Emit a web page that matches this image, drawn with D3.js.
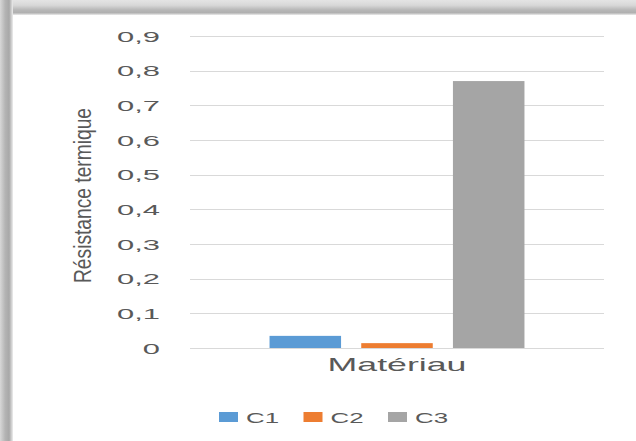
<!DOCTYPE html>
<html>
<head>
<meta charset="utf-8">
<script src="https://cdn.jsdelivr.net/npm/d3@7"></script>
<style>
  html, body { margin: 0; padding: 0; background: #ffffff; }
  svg { display: block; }
  text { font-family: "Liberation Sans", Arial, sans-serif; }
</style>
</head>
<body>
<div id="chart"></div>
<script>
// ---- data ----
const categories = ["Matériau"];
const seriesNames = ["C1", "C2", "C3"];
const seriesValues = [0.035, 0.014, 0.77];
const seriesColors = ["#5B9BD5", "#ED7D31", "#A5A5A5"];
const yTickValues = [0, 0.1, 0.2, 0.3, 0.4, 0.5, 0.6, 0.7, 0.8, 0.9];
const yTickLabels = ["0", "0,1", "0,2", "0,3", "0,4", "0,5", "0,6", "0,7", "0,8", "0,9"];
const yTitle = "Résistance termique";

// ---- layout ----
const W = 636, H = 441;
const plot = { left: 190, right: 604, top: 36, bottom: 348 };
const textColor = "#595959";

const svg = d3.select("#chart").append("svg").attr("width", W).attr("height", H);
const defs = svg.append("defs");

// frame shadow
const gTop = defs.append("linearGradient").attr("id", "gTop").attr("x1", 0).attr("y1", 0).attr("x2", 0).attr("y2", 1);
[[0, "#e4e4e4"], [0.35, "#d8d8d8"], [0.65, "#b8b8b8"], [0.85, "#b0b0b0"], [1, "#ececec"]]
  .forEach(([o, c]) => gTop.append("stop").attr("offset", o).attr("stop-color", c));
const gLeft = defs.append("linearGradient").attr("id", "gLeft").attr("x1", 0).attr("y1", 0).attr("x2", 1).attr("y2", 0);
[[0, "#d8d8d8"], [0.4, "#b4b4b4"], [0.7, "#a8a8a8"], [0.85, "#c8c8c8"], [1, "#eeeeee"]]
  .forEach(([o, c]) => gLeft.append("stop").attr("offset", o).attr("stop-color", c));

svg.append("rect").attr("x", 0).attr("y", 0).attr("width", W).attr("height", H).attr("fill", "#ffffff");
svg.append("rect").attr("x", 0).attr("y", 0).attr("width", W).attr("height", 15).attr("fill", "url(#gTop)");
svg.append("rect").attr("x", 0).attr("y", 0).attr("width", 13).attr("height", H).attr("fill", "url(#gLeft)");

// helper for stretched text
function stretchedText(parent, x, y, str, size, anchor, k, rot) {
  return parent.append("text")
    .attr("transform", `translate(${x},${y}) scale(${k},1)` + (rot ? ` rotate(${rot})` : ""))
    .attr("text-anchor", anchor)
    .attr("font-size", size)
    .attr("fill", textColor)
    .text(str);
}

// ---- scales ----
const y = d3.scaleLinear().domain([0, 0.9]).range([plot.bottom, plot.top]);
const x0 = d3.scaleBand().domain(categories).range([plot.left, plot.right]).paddingInner(0).paddingOuter(0.312);
const x1 = d3.scaleBand().domain(seriesNames).range([0, x0.bandwidth()]).paddingInner(0.22).paddingOuter(0);

// gridlines
svg.append("g").selectAll("line").data(yTickValues).join("line")
  .attr("x1", plot.left).attr("x2", plot.right)
  .attr("y1", d => Math.round(y(d)) + 0.5).attr("y2", d => Math.round(y(d)) + 0.5)
  .attr("stroke", "#d9d9d9").attr("stroke-width", 1);

// y axis (labels only)
const yAxis = d3.axisLeft(y).tickValues(yTickValues)
  .tickFormat((d, i) => yTickLabels[i]).tickSize(0).tickPadding(30);
const ya = svg.append("g").attr("transform", `translate(${plot.left},0)`).call(yAxis);
ya.select(".domain").remove();
ya.selectAll(".tick text")
  .attr("font-family", "Liberation Sans, Arial, sans-serif")
  .attr("font-size", 15).attr("fill", textColor)
  .attr("dy", "0.35em")
  .attr("transform", function () { const x = +d3.select(this).attr("x"); d3.select(this).attr("x", 0); return `translate(${x},0) scale(2.06,1)`; });

// bars
const barG = svg.append("g");
categories.forEach(cat => {
  barG.selectAll(null).data(seriesNames.map((s, i) => ({ s, v: seriesValues[i], c: seriesColors[i] })))
    .join("rect")
    .attr("x", d => x0(cat) + x1(d.s))
    .attr("width", x1.bandwidth())
    .attr("y", d => y(d.v))
    .attr("height", d => y(0) - y(d.v))
    .attr("fill", d => d.c);
});

// category label
categories.forEach(cat => {
  stretchedText(svg, x0(cat) + x0.bandwidth() / 2, 371, cat, 18.6, "middle", 1.92);
});

// y title
stretchedText(svg, 91, 195.5, yTitle, 19, "middle", 1.3, -90).attr("textLength", 175).attr("lengthAdjust", "spacingAndGlyphs");

// legend
const legX0 = 219, legStep = 84.5;
const leg = svg.append("g");
seriesNames.forEach((s, i) => {
  const lx = legX0 + i * legStep;
  leg.append("rect").attr("x", lx).attr("y", 412).attr("width", 19).attr("height", 10).attr("fill", seriesColors[i]);
  stretchedText(leg, lx + 27, 423, s, 15.5, "start", 1.67);
});
</script>
</body>
</html>
